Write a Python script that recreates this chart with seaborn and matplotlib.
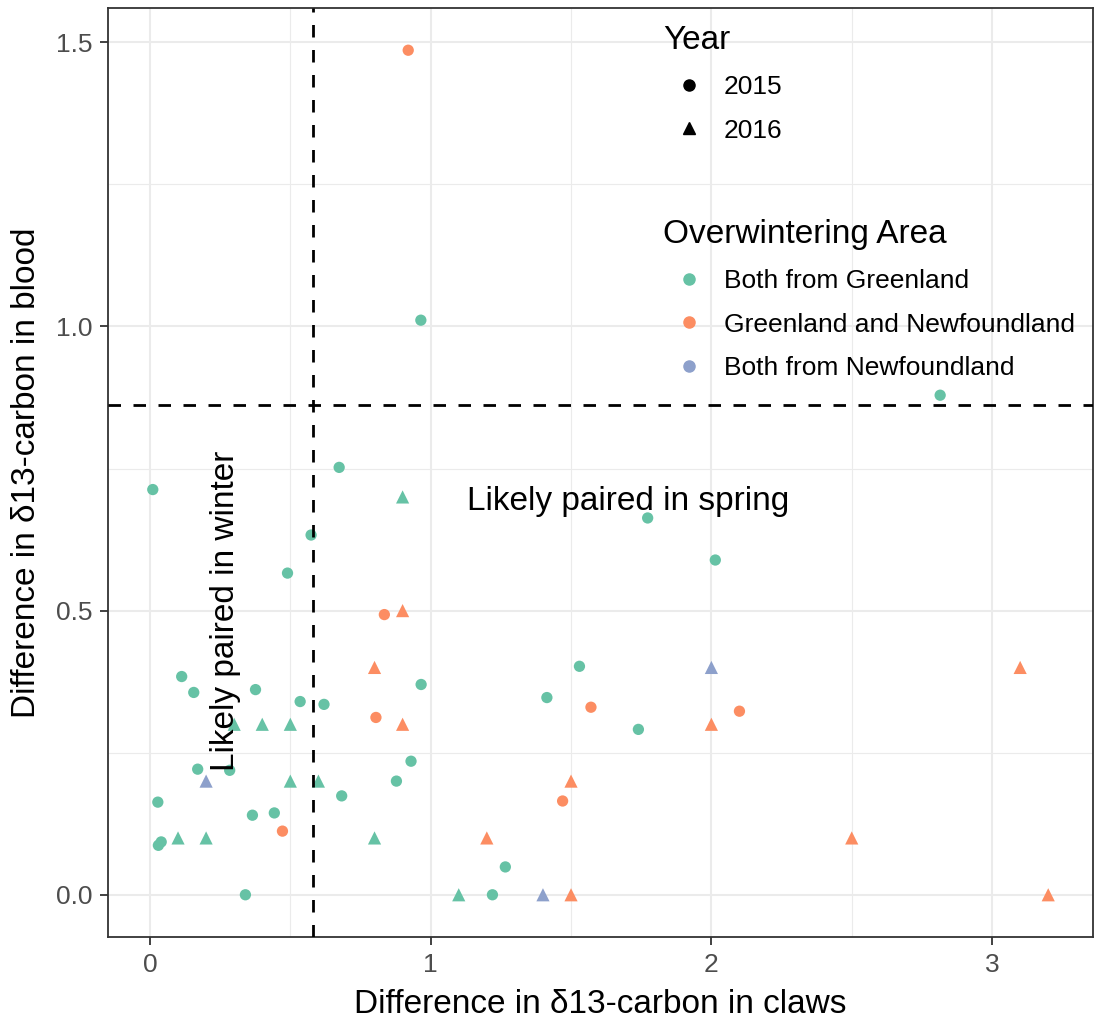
import matplotlib
matplotlib.use("Agg")
import matplotlib.pyplot as plt
import seaborn as sns
import pandas as pd
from matplotlib.lines import Line2D
from matplotlib.ticker import FixedLocator

# ---------------- data ----------------
areas = ["Both from Greenland", "Greenland and Newfoundland", "Both from Newfoundland"]
years = ["2015", "2016"]
area_colors = ["#66C2A5", "#FC8D62", "#8DA0CB"]

# Both from Greenland, 2015 (circles)
gl15_x = [0.01, 0.965, 2.815, 0.674, 0.574, 0.49, 1.773, 2.014, 0.113, 0.156,
          0.376, 0.535, 0.62, 0.966, 1.53, 1.414, 1.74, 0.17, 0.93, 0.878,
          0.683, 0.028, 0.365, 0.443, 0.03, 0.04, 0.34, 1.22, 1.266, 0.284]
gl15_y = [0.713, 1.011, 0.879, 0.752, 0.633, 0.566, 0.663, 0.589, 0.384, 0.356,
          0.361, 0.340, 0.335, 0.370, 0.402, 0.347, 0.291, 0.221, 0.235, 0.200,
          0.174, 0.163, 0.140, 0.144, 0.087, 0.093, 0.0, 0.0, 0.049, 0.219]
# Both from Greenland, 2016 (triangles)
gl16_x = [0.3, 0.4, 0.5, 0.5, 0.6, 0.1, 0.2, 0.8, 0.9, 1.1]
gl16_y = [0.3, 0.3, 0.3, 0.2, 0.2, 0.1, 0.1, 0.1, 0.7, 0.0]
# Greenland and Newfoundland, 2015
gn15_x = [0.92, 0.835, 0.805, 0.472, 1.47, 1.571, 2.1]
gn15_y = [1.486, 0.493, 0.312, 0.112, 0.165, 0.330, 0.323]
# Greenland and Newfoundland, 2016
gn16_x = [0.9, 0.8, 0.9, 1.2, 1.5, 1.5, 2.0, 2.5, 3.1, 3.2]
gn16_y = [0.5, 0.4, 0.3, 0.1, 0.2, 0.0, 0.3, 0.1, 0.4, 0.0]
# Both from Newfoundland, 2016
nf16_x = [0.2, 1.4, 2.0]
nf16_y = [0.2, 0.0, 0.4]

winter_cut_x = 0.58
spring_cut_y = 0.861

x_ticks = [0, 1, 2, 3]
x_tick_labels = ["0", "1", "2", "3"]
y_ticks = [0.0, 0.5, 1.0, 1.5]
y_tick_labels = ["0.0", "0.5", "1.0", "1.5"]

groups = [
    (gl15_x, gl15_y, areas[0], "2015"),
    (gl16_x, gl16_y, areas[0], "2016"),
    (gn15_x, gn15_y, areas[1], "2015"),
    (gn16_x, gn16_y, areas[1], "2016"),
    (nf16_x, nf16_y, areas[2], "2016"),
]
records = []
for xs, ys, area, yr in groups:
    for xv, yv in zip(xs, ys):
        records.append({"claws": xv, "blood": yv, "area": area, "year": yr})
df = pd.DataFrame(records)

# ---------------- style ----------------
sns.set_theme(style="white")
plt.rcParams["font.family"] = ["Liberation Sans", "DejaVu Sans"]
plt.rcParams["text.color"] = "black"

W, H = 1096, 1022
fig = plt.figure(figsize=(W / 100, H / 100), dpi=100)
left, right, top, bottom = 108, 1093, 8, 937
ax = fig.add_axes([left / W, 1 - bottom / H, (right - left) / W, (bottom - top) / H])

pal = dict(zip(areas, area_colors))
for yr, mk, sz in [("2015", "o", 66), ("2016", "^", 90)]:
    sub = df[df["year"] == yr]
    sns.scatterplot(data=sub, x="claws", y="blood", hue="area", hue_order=areas,
                    palette=pal, marker=mk, s=sz, linewidth=0, edgecolor="none",
                    legend=False, ax=ax, zorder=3)

# ggplot-like 5% expansion
xmin, xmax = df["claws"].min(), df["claws"].max()
ymin, ymax = df["blood"].min(), df["blood"].max()
ax.set_xlim(xmin - 0.05 * (xmax - xmin), xmax + 0.05 * (xmax - xmin))
ax.set_ylim(ymin - 0.05 * (ymax - ymin), ymax + 0.05 * (ymax - ymin))

ax.axvline(winter_cut_x, color="black", lw=2.0, ls=(0, (4.5, 4.5)), zorder=4)
ax.axhline(spring_cut_y, color="black", lw=2.0, ls=(0, (4.5, 4.5)), zorder=4)

ax.text(0.27, 0.5, "Likely paired in winter", rotation=90, ha="center", va="center",
        fontsize=24, color="black", zorder=5)
ax.text(1.704, 0.692, "Likely paired in spring", ha="center", va="center",
        fontsize=24, color="black", zorder=5)

# grid
ax.set_axisbelow(True)
ax.xaxis.set_major_locator(FixedLocator(x_ticks))
ax.yaxis.set_major_locator(FixedLocator(y_ticks))
ax.set_xticklabels(x_tick_labels)
ax.set_yticklabels(y_tick_labels)
ax.xaxis.set_minor_locator(FixedLocator([0.5, 1.5, 2.5]))
ax.yaxis.set_minor_locator(FixedLocator([0.25, 0.75, 1.25]))
ax.grid(which="major", color="#EBEBEB", lw=1.5)
ax.grid(which="minor", color="#EBEBEB", lw=0.8)

for sp in ax.spines.values():
    sp.set_visible(True)
    sp.set_color("#333333")
    sp.set_linewidth(1.3)

ax.tick_params(which="major", direction="out", length=5.5, width=1.3, color="#333333",
               labelcolor="#4D4D4D", labelsize=19, pad=6,
               bottom=True, left=True, top=False, right=False)
ax.tick_params(which="minor", length=0)

ax.set_xlabel("Difference in δ13-carbon in claws", fontsize=24, color="black", labelpad=9)
ax.set_ylabel("Difference in δ13-carbon in blood", fontsize=24, color="black", labelpad=10)

# legends
fs = 19
year_handles = [
    Line2D([], [], marker="o", ls="", color="black", markersize=8),
    Line2D([], [], marker="^", ls="", color="black", markersize=8.5),
]
common = dict(loc="upper left", bbox_transform=fig.transFigure, frameon=False,
              fontsize=fs, title_fontsize=24, alignment="left", borderpad=0,
              borderaxespad=0, handlelength=2.0, handletextpad=0.3,
              labelspacing=0.73, labelcolor="black")
leg1 = ax.legend(year_handles, years, title="Year",
                 bbox_to_anchor=(663 / W, 1 - 25 / H), **common)
ax.add_artist(leg1)
area_handles = [Line2D([], [], marker="o", ls="", color=c, markersize=8) for c in area_colors]
leg2 = ax.legend(area_handles, areas, title="Overwintering Area",
                 bbox_to_anchor=(663 / W, 1 - 219 / H), **common)
for lg in (leg1, leg2):
    lg.set_zorder(6)
    lg.get_title().set_color("black")

fig.savefig("out.png", dpi=100)
